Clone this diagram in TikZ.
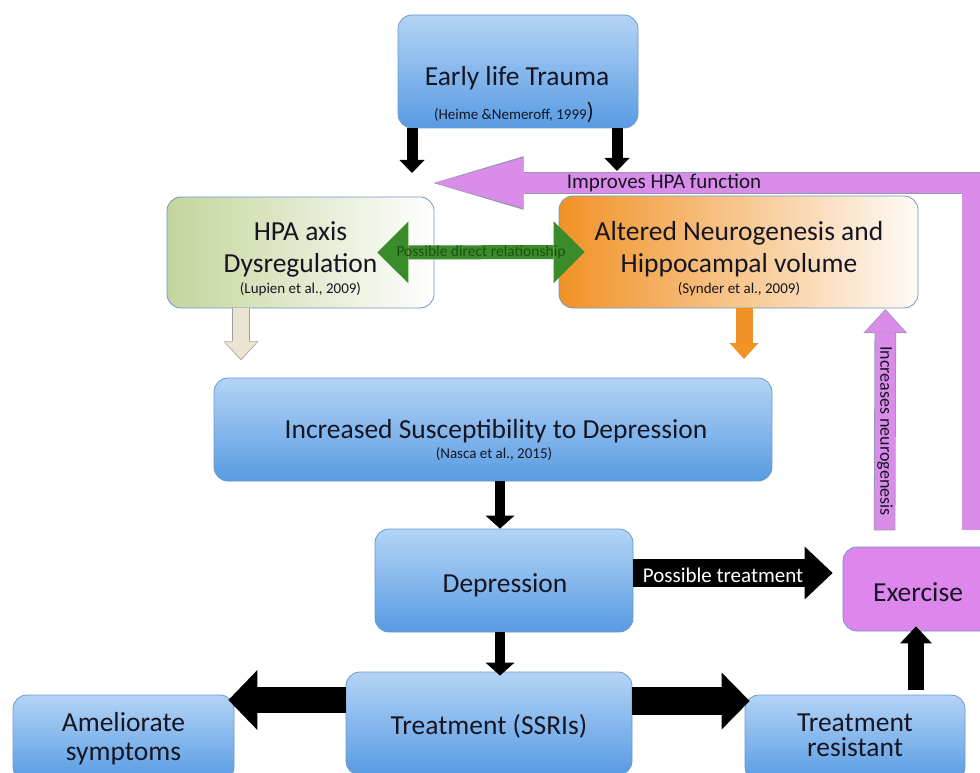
\documentclass[tikz,border=0pt]{standalone}
\usepackage{fontspec}
\setmainfont{Carlito}
\usetikzlibrary{arrows.meta}

\definecolor{boxtop}{RGB}{180,212,246}
\definecolor{boxbot}{RGB}{88,155,227}
\definecolor{boxline}{RGB}{110,152,204}
\definecolor{hpagreen}{RGB}{196,213,155}
\definecolor{neuroorange}{RGB}{241,146,38}
\definecolor{exviolet}{RGB}{221,134,236}
\definecolor{arrviolet}{RGB}{218,140,233}
\definecolor{violetline}{RGB}{150,150,180}
\definecolor{relgreen}{RGB}{58,140,42}
\definecolor{reltext}{RGB}{30,80,18}
\definecolor{paletan}{RGB}{236,227,208}
\definecolor{ink}{RGB}{22,22,34}

\newcommand\mainsize{\fontsize{27.5}{32}\selectfont}
\newcommand\citesize{\fontsize{15}{18}\selectfont}
\newcommand\armsize{\fontsize{21}{24}\selectfont}

\tikzset{
  bluebox/.style={draw=boxline, line width=0.8pt, rounded corners=14pt,
    top color=boxtop, bottom color=boxbot, inner sep=0pt},
  hpabox/.style={draw=boxline, line width=0.8pt, rounded corners=14pt,
    left color=hpagreen, middle color=hpagreen!70!white, right color=white, inner sep=0pt},
  neurobox/.style={draw=boxline, line width=0.8pt, rounded corners=14pt,
    left color=neuroorange, middle color=neuroorange!75!white,
    right color=neuroorange!4!white, inner sep=0pt},
  exbox/.style={draw=boxline, line width=0.8pt, rounded corners=14pt,
    fill=exviolet, inner sep=0pt},
  mainlbl/.style={font=\mainsize, text=ink, align=center, anchor=base, inner sep=0pt},
  citelbl/.style={font=\citesize, text=ink, anchor=base, inner sep=0pt},
  fatarrow/.style n args={3}{line width=#1,
    -{Triangle[width=#2,length=#3,line width=0pt]}},
  twoway/.style n args={3}{line width=#1,
    {Triangle[width=#2,length=#3,line width=0pt]}-{Triangle[width=#2,length=#3,line width=0pt]}},
}

\begin{document}
\begin{tikzpicture}[x=1pt,y=-1pt]
\clip (0,0) rectangle (980,773);
\fill[white] (0,0) rectangle (980,773);

% boxes
\node[bluebox, minimum width=240pt, minimum height=113pt] (trauma) at (518,71.5) {};
\node[hpabox, minimum width=267pt, minimum height=111pt] (hpa) at (300.5,252.5) {};
\node[neurobox, minimum width=359pt, minimum height=112pt] (neuro) at (738.5,252) {};
\node[bluebox, minimum width=558pt, minimum height=103pt] (suscept) at (493,429.5) {};
\node[bluebox, minimum width=258pt, minimum height=103pt] (depr) at (504,580.5) {};
\node[exbox, minimum width=150pt, minimum height=84pt] (exer) at (918,589) {};
\node[bluebox, minimum width=286pt, minimum height=103pt] (ssri) at (489,723.5) {};
\node[bluebox, minimum width=221pt, minimum height=86pt] (amel) at (123.5,738) {};
\node[bluebox, minimum width=220pt, minimum height=86pt] (resist) at (855,738) {};

% box texts (base = last line)
\node[mainlbl] (traumaT) at (517,86) {Early life Trauma};
\node[citelbl] (traumaC) at (514,120) {(Heime \&Nemeroff, 1999{\fontsize{24}{24}\selectfont)}};
\node[mainlbl] (hpaT) at (300.5,272) {HPA axis\\Dysregulation};
\node[citelbl] (hpaC) at (300.5,293) {(Lupien et al., 2009)};
\node[mainlbl] (neuroT) at (739,272) {Altered Neurogenesis and\\Hippocampal volume};
\node[citelbl] (neuroC) at (739,293) {(Synder et al., 2009)};
\node[mainlbl] (susceptT) at (496,438) {Increased Susceptibility to Depression};
\node[citelbl] (susceptC) at (494,458) {(Nasca et al., 2015)};
\node[mainlbl] (deprT) at (505,592) {Depression};
\node[mainlbl] (exerT) at (918,601) {Exercise};
\node[mainlbl] (ssriT) at (489,734) {Treatment (SSRIs)};
\node[mainlbl] (amelT) at (123.5,760) {Ameliorate\\[-3pt]symptoms};
\node[mainlbl] (resistT) at (855,756) {Treatment\\[-7pt]resistant};

% free ends
\coordinate (leftdrop) at (412,173);
\coordinate (rightdrop) at (617,171);
\coordinate (tandrop) at (241,359);
\coordinate (orangedrop) at (744,359);
\coordinate (hpaentry) at (435,183);

% improves HPA function
\draw[arrviolet, line join=miter, fatarrow={20pt}{50pt}{88pt},
  preaction={draw=violetline, line width=21.6pt, line join=miter,
    shorten <=-0.8pt, shorten >=-1.5pt,
    -{Triangle[width=53.5pt,length=90pt,line width=0pt]}}]
  ([xshift=-21pt,yshift=17pt]exer.north east) |- (hpaentry);
\node[font=\armsize, text=ink, anchor=base, inner sep=0pt] (improveT) at (664,189) {Improves HPA function};

% from early life trauma
\draw[fatarrow={11pt}{25pt}{13pt}] (trauma.south -| leftdrop) -- (leftdrop);
\draw[fatarrow={11pt}{25pt}{13pt}] (trauma.south -| rightdrop) -- (rightdrop);

% hpa <-> neurogenesis
\draw[relgreen, twoway={14pt}{62pt}{31pt}] ([xshift=-57pt]hpa.east) -- ([xshift=26pt]neuro.west)
  node[midway, font=\fontsize{15.5}{17}\selectfont, text=reltext, inner sep=0pt] (relT) {Possible direct relationship};

% down to susceptibility
\draw[paletan, fatarrow={16pt}{32pt}{17pt},
  preaction={draw=gray!75, line width=17.6pt, shorten <=-0.8pt, shorten >=-1.3pt,
    -{Triangle[width=35pt,length=19pt,line width=0pt]}}]
  (hpa.south -| tandrop) -- (tandrop);
\draw[neuroorange, fatarrow={17pt}{29pt}{16pt}] (neuro.south -| orangedrop) -- (orangedrop);

% increases neurogenesis
\draw[arrviolet, fatarrow={20pt}{41pt}{22pt},
  preaction={draw=violetline, line width=21.6pt, shorten <=-0.8pt, shorten >=-1.3pt,
    -{Triangle[width=44pt,length=24pt,line width=0pt]}}]
  ([xshift=42pt,yshift=17pt]exer.north west) -- ([xshift=-33pt,yshift=-2pt]neuro.south east)
  node[pos=0.45, rotate=-90, font=\fontsize{18}{20}\selectfont, text=ink, inner sep=0pt] (incT) {Increases neurogenesis};

% main chain
\draw[fatarrow={10pt}{29pt}{13pt}] ([xshift=7pt]suscept.south) -- ([xshift=-4pt]depr.north);
\draw[fatarrow={10pt}{29pt}{13pt}] ([xshift=-4pt]depr.south) -- ([xshift=11pt,yshift=-4pt]ssri.north);
\draw[fatarrow={28pt}{53pt}{28pt}] ([yshift=7.5pt]depr.east) -- ([xshift=-10pt,yshift=16pt]exer.west);
\node[font=\armsize, text=white, anchor=base, inner sep=0pt] (possT) at (723,582) {Possible treatment};
\draw[fatarrow={26pt}{60pt}{29pt}] ([yshift=23.5pt]ssri.west) -- ([xshift=-6pt,yshift=38pt]amel.east);
\draw[fatarrow={28pt}{57pt}{28pt}] ([yshift=22.5pt]ssri.east) -- ([xshift=5pt,yshift=37pt]resist.west);
\draw[fatarrow={16pt}{32pt}{17pt}] ([xshift=61pt,yshift=5pt]resist.north) -- ([xshift=-2pt,yshift=5pt]exer.south);
\end{tikzpicture}
\end{document}
